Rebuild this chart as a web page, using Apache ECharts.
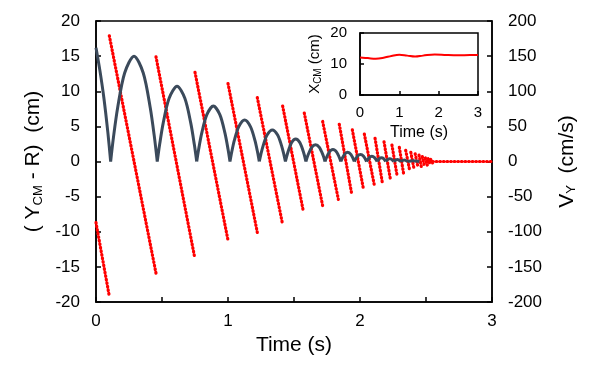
<!DOCTYPE html>
<html><head><meta charset="utf-8">
<script src="https://cdn.jsdelivr.net/npm/echarts@6/dist/echarts.min.js"></script>
<style>html,body{margin:0;padding:0;background:#fff}#c{width:595px;height:366px}</style>
</head><body><div id="c"></div>
<script>
// ---- Data ----
// (Y_CM - R) in cm : initial fall, then bounce arcs, as [time (s), value (cm)]
const grayStart = [[0,16.2],[0.03,12.9],[0.06,9.0],[0.09,4.1],[0.111,0]];
const grayArcs = [
  [[0.111,0],[0.132,3.4],[0.164,7.65],[0.217,12.6],[0.288,15.0],[0.358,12.6],[0.411,7.65],[0.443,3.4],[0.464,0]],
  [[0.464,0],[0.482,2.41],[0.509,5.46],[0.554,8.99],[0.614,10.7],[0.673,8.99],[0.718,5.46],[0.745,2.41],[0.763,0]],
  [[0.763,0],[0.778,1.78],[0.801,4.03],[0.839,6.64],[0.889,7.9],[0.939,6.64],[0.977,4.03],[1.000,1.78],[1.015,0]],
  [[1.015,0],[1.028,1.33],[1.048,3.01],[1.082,4.96],[1.126,5.9],[1.170,4.96],[1.204,3.01],[1.224,1.33],[1.237,0]],
  [[1.237,0],[1.249,1.02],[1.267,2.3],[1.296,3.78],[1.336,4.5],[1.376,3.78],[1.405,2.3],[1.423,1.02],[1.435,0]],
  [[1.435,0],[1.451,1.15],[1.482,2.69],[1.513,3.2],[1.544,2.69],[1.575,1.15],[1.59,0]],
  [[1.59,0],[1.605,0.86],[1.634,2.02],[1.663,2.4],[1.692,2.02],[1.721,0.86],[1.735,0]],
  [[1.735,0],[1.765,1.28],[1.795,1.7],[1.825,1.28],[1.855,0]],
  [[1.855,0],[1.881,0.98],[1.906,1.3],[1.932,0.98],[1.957,0]],
  [[1.957,0],[1.98,0.75],[2.004,1.0],[2.027,0.75],[2.05,0]],
  [[2.05,0],[2.07,0.56],[2.09,0.75],[2.11,0.56],[2.13,0]],
  [[2.13,0],[2.146,0.41],[2.163,0.55],[2.179,0.41],[2.195,0]],
  [[2.195,0],[2.21,0.3],[2.225,0.4],[2.24,0.3],[2.255,0]],
  [[2.255,0],[2.283,0.3],[2.31,0]],
  [[2.31,0],[2.335,0.2],[2.36,0]],
  [[2.36,0],[2.40,0.1],[2.45,0]]
];
// V_Y in cm/s : straight runs between bounces [tStart, vStart, tEnd, vEnd]
const redSegments = [
  [0,-87,0.101,-192],
  [0.101,179,0.4545,-159],
  [0.4545,149,0.745,-134],
  [0.75,127,1.002,-114],
  [1.0,111,1.222,-101],
  [1.222,91,1.411,-87],
  [1.414,79,1.571,-71],
  [1.578,69,1.717,-63],
  [1.717,57,1.836,-54],
  [1.843,53,1.937,-46],
  [1.942,45,2.025,-38],
  [2.033,39,2.11,-35],
  [2.114,33,2.17,-31],
  [2.182,28,2.23,-25],
  [2.242,23.5,2.28,-19],
  [2.298,20,2.33,-17],
  [2.346,16,2.378,-14],
  [2.385,13,2.41,-11],
  [2.418,11,2.44,-9],
  [2.447,9,2.465,-8],
  [2.472,7,2.488,-6],
  [2.495,5,2.51,-5],
  [2.515,4,2.53,-3],
  [2.535,3,2.55,-2],
  [2.55,0,3.0,0]
];
// Inset: X_CM (cm) vs time
const xcmTime  = [0,0.2,0.4,0.6,0.8,1.0,1.2,1.4,1.6,1.9,2.2,2.5,2.8,3.0];
const xcmValue = [12.1,11.9,11.7,12.0,12.6,13.0,12.7,12.4,12.7,13.1,12.9,12.8,12.9,12.9];

// ---- Build series data ----
const grayData = [];
[grayStart, ...grayArcs].forEach((seg, i) => {
  if (i > 0) grayData.push([seg[0][0], '-']);
  seg.forEach(p => grayData.push(p));
});
const redData = [];
redSegments.forEach((s, i) => {
  if (i > 0) redData.push([s[0], '-']);
  redData.push([s[0], s[1]]);
  redData.push([s[2], s[3]]);
});
const insetData = xcmTime.map((t, i) => [t, xcmValue[i]]);

const FONT = 'Liberation Sans, Arial, sans-serif';
const axisLine = {show: true, onZero: false, lineStyle: {color: '#000', width: 1.5}};
const subRich = {sub: {fontSize: 13, fontFamily: FONT, color: '#000', verticalAlign: 'bottom', padding: [9,0,0,0]}};

const chart = echarts.init(document.getElementById('c'), null, {renderer: 'canvas'});
chart.setOption({
  animation: false,
  backgroundColor: '#fff',
  grid: [
    {left: 96, top: 21, width: 396, height: 281, show: true, borderColor: '#000', borderWidth: 1.5, containLabel: false},
    {left: 360, top: 33, width: 118, height: 62, show: true, borderColor: '#000', borderWidth: 1.5, backgroundColor: '#fff', containLabel: false}
  ],
  xAxis: [
    {type: 'value', gridIndex: 0, min: 0, max: 3, interval: 0.5,
     axisLine: axisLine, axisTick: {show: true, inside: true, length: 5, lineStyle: {color: '#000', width: 1.5}},
     splitLine: {show: false},
     axisLabel: {fontSize: 17, fontFamily: FONT, color: '#000', margin: 11,
       formatter: v => Number.isInteger(v) ? String(v) : ''},
     name: 'Time (s)', nameLocation: 'middle', nameGap: 24,
     nameTextStyle: {fontSize: 21, fontFamily: FONT, color: '#000'}},
    {type: 'value', gridIndex: 1, min: 0, max: 3, interval: 1,
     axisLine: axisLine, axisTick: {show: true, inside: true, length: 4, lineStyle: {color: '#000', width: 1.5}},
     splitLine: {show: false},
     axisLabel: {fontSize: 15, fontFamily: FONT, color: '#000', margin: 10},
     name: 'Time (s)', nameLocation: 'middle', nameGap: 30,
     nameTextStyle: {fontSize: 16, fontFamily: FONT, color: '#000'}}
  ],
  yAxis: [
    {type: 'value', gridIndex: 0, position: 'left', min: -20, max: 20, interval: 5,
     axisLine: axisLine, axisTick: {show: true, inside: true, length: 5, lineStyle: {color: '#000', width: 1.5}},
     splitLine: {show: false},
     axisLabel: {fontSize: 17, fontFamily: FONT, color: '#000', margin: 16},
     name: '( Y{sub|CM} - R)  (cm)', nameLocation: 'middle', nameGap: 50, nameRotate: 90,
     nameTextStyle: {fontSize: 21, fontFamily: FONT, color: '#000', rich: subRich}},
    {type: 'value', gridIndex: 0, position: 'right', min: -200, max: 200, interval: 50,
     axisLine: axisLine, axisTick: {show: true, inside: true, length: 5, lineStyle: {color: '#000', width: 1.5}},
     splitLine: {show: false},
     axisLabel: {fontSize: 17, fontFamily: FONT, color: '#000', margin: 16},
     name: 'V{sub|Y}  (cm/s)', nameLocation: 'middle', nameGap: 64, nameRotate: 90,
     nameTextStyle: {fontSize: 21, fontFamily: FONT, color: '#000', rich: subRich}},
    {type: 'value', gridIndex: 1, min: 0, max: 20, interval: 10,
     axisLine: axisLine, axisTick: {show: true, inside: true, length: 4, lineStyle: {color: '#000', width: 1.5}},
     splitLine: {show: false},
     axisLabel: {fontSize: 15, fontFamily: FONT, color: '#000', margin: 13},
     name: 'X{sub|CM} (cm)', nameLocation: 'middle', nameGap: 37, nameRotate: 90,
     nameTextStyle: {fontSize: 15, fontFamily: FONT, color: '#000',
       rich: {sub: {fontSize: 10, fontFamily: FONT, color: '#000', verticalAlign: 'bottom', padding: [6,0,0,0]}}}}
  ],
  series: [
    {type: 'line', xAxisIndex: 0, yAxisIndex: 1, data: redData, showSymbol: false, z: 2,
     connectNulls: false,
     lineStyle: {color: '#ff0000', width: 3.2, type: [0.7, 2.9], cap: 'round'}},
    {type: 'line', xAxisIndex: 0, yAxisIndex: 0, data: grayData, showSymbol: false, z: 3,
     connectNulls: false, smooth: 0.3,
     lineStyle: {color: '#3b4a5b', width: 3}},
    {type: 'line', xAxisIndex: 1, yAxisIndex: 2, data: insetData, showSymbol: false, z: 4,
     smooth: 0.4, lineStyle: {color: '#ff0000', width: 2}}
  ]
});
</script></body></html>
